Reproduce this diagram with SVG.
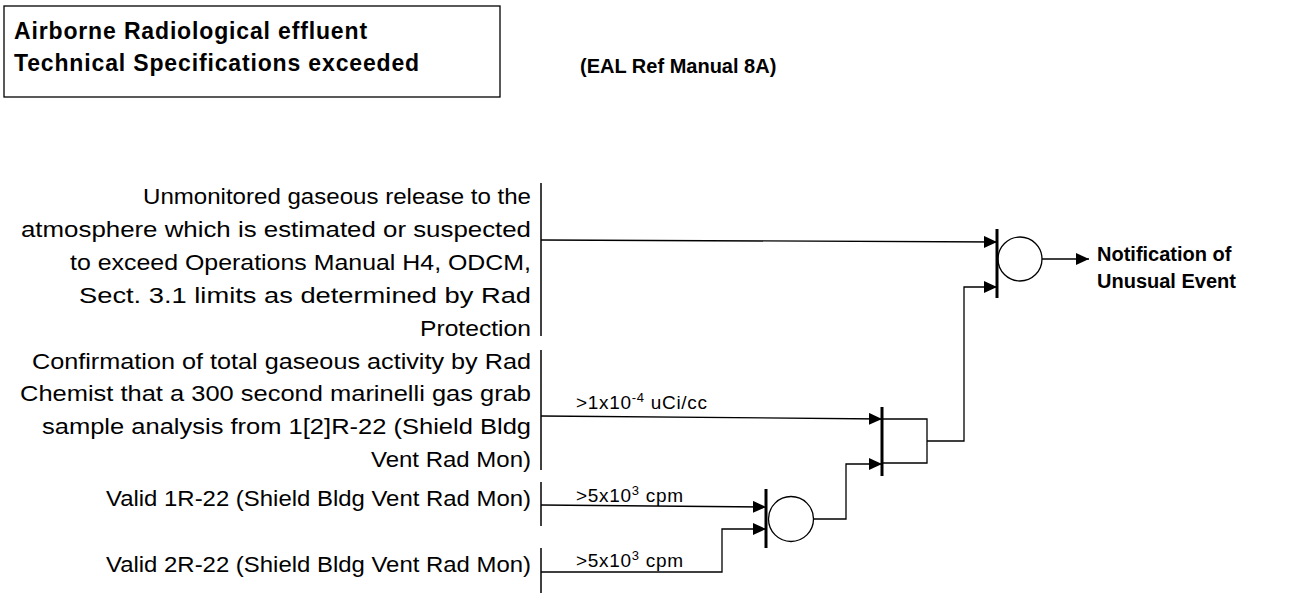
<svg xmlns="http://www.w3.org/2000/svg" width="1291" height="593" viewBox="0 0 1291 593">
<defs>
<marker id="ah" markerWidth="13" markerHeight="12" refX="13" refY="6" orient="auto" markerUnits="userSpaceOnUse">
<path d="M0,0 L13,6 L0,12 Z" fill="#000"/>
</marker>
<style>
.t{font-family:"Liberation Sans",Arial,sans-serif;font-size:22px;fill:#000}
.h{font-family:"Liberation Sans",Arial,sans-serif;font-size:23px;font-weight:bold;letter-spacing:0.85px;fill:#000}
.b{font-family:"Liberation Sans",Arial,sans-serif;font-size:20px;font-weight:bold;fill:#000}
.s{font-family:"Liberation Sans",Arial,sans-serif;font-size:19px;letter-spacing:0.7px;fill:#000}
.ln{fill:none;stroke:#000;stroke-width:1.3}
.bar{stroke:#000;stroke-width:1.5}
.gb{stroke:#000;stroke-width:3}
.c{fill:#fff;stroke:#000;stroke-width:1.3}
</style>
</defs>
<rect width="1291" height="593" fill="#fff"/>
<g id="title">
<rect x="4" y="6" width="496" height="91" fill="none" stroke="#000" stroke-width="1.3"/>
<text class="h" x="14" y="39">Airborne Radiological effluent</text>
<text class="h" x="14" y="71">Technical Specifications exceeded</text>
</g>
<g id="ref"><text class="b" x="580" y="73">(EAL Ref Manual 8A)</text></g>
<g id="input1">
<text class="t" text-anchor="end" x="531" y="204" textLength="388" lengthAdjust="spacingAndGlyphs">Unmonitored gaseous release to the</text>
<text class="t" text-anchor="end" x="531" y="237" textLength="510" lengthAdjust="spacingAndGlyphs">atmosphere which is estimated or suspected</text>
<text class="t" text-anchor="end" x="531" y="270" textLength="461" lengthAdjust="spacingAndGlyphs">to exceed Operations Manual H4, ODCM,</text>
<text class="t" text-anchor="end" x="531" y="303" textLength="452" lengthAdjust="spacingAndGlyphs">Sect. 3.1 limits as determined by Rad</text>
<text class="t" text-anchor="end" x="531" y="336" textLength="111" lengthAdjust="spacingAndGlyphs">Protection</text>
<line class="bar" x1="541" y1="183" x2="541" y2="336"/>
</g>
<g id="input2">
<text class="t" text-anchor="end" x="531" y="369" textLength="499" lengthAdjust="spacingAndGlyphs">Confirmation of total gaseous activity by Rad</text>
<text class="t" text-anchor="end" x="531" y="401" textLength="511" lengthAdjust="spacingAndGlyphs">Chemist that a 300 second marinelli gas grab</text>
<text class="t" text-anchor="end" x="531" y="434" textLength="489" lengthAdjust="spacingAndGlyphs">sample analysis from 1[2]R-22 (Shield Bldg</text>
<text class="t" text-anchor="end" x="531" y="467" textLength="160" lengthAdjust="spacingAndGlyphs">Vent Rad Mon)</text>
<line class="bar" x1="541" y1="350" x2="541" y2="470"/>
</g>
<g id="input3">
<text class="t" text-anchor="end" x="531" y="506" textLength="425" lengthAdjust="spacingAndGlyphs">Valid 1R-22 (Shield Bldg Vent Rad Mon)</text>
<line class="bar" x1="541" y1="482" x2="541" y2="526"/>
</g>
<g id="input4">
<text class="t" text-anchor="end" x="531" y="572" textLength="425" lengthAdjust="spacingAndGlyphs">Valid 2R-22 (Shield Bldg Vent Rad Mon)</text>
<line class="bar" x1="541" y1="548" x2="541" y2="593"/>
</g>
<g id="gate1">
<circle class="c" cx="1020" cy="259" r="22"/>
<line class="gb" x1="997" y1="229" x2="997" y2="298"/>
</g>
<g id="gate2">
<line class="gb" x1="882" y1="407" x2="882" y2="476"/>
</g>
<g id="gate3">
<circle class="c" cx="791" cy="519" r="22.5"/>
<line class="gb" x1="766" y1="489" x2="766" y2="548"/>
</g>
<g id="output">
<text class="b" x="1097" y="261">Notification of</text>
<text class="b" x="1097" y="288">Unusual Event</text>
</g>
<g id="connectors">
<path class="ln" d="M541,240 L997,242" marker-end="url(#ah)"/>
<path class="ln" d="M541,416 L882,419" marker-end="url(#ah)"/>
<path class="ln" d="M541,505 L766,507" marker-end="url(#ah)"/>
<path class="ln" d="M541,572 L722,572 L722,529 L766,529" marker-end="url(#ah)"/>
<path class="ln" d="M813,519 L846,519 L846,464 L882,464" marker-end="url(#ah)"/>
<path class="ln" d="M882,419 L927,419 L927,463 L882,463"/>
<path class="ln" d="M927,441 L964,441 L964,287 L997,287" marker-end="url(#ah)"/>
<path class="ln" d="M1042,259 L1089,259" marker-end="url(#ah)"/>
<text class="s" x="576" y="409">&gt;1x10<tspan dy="-7" font-size="13">-4</tspan><tspan dy="7"> uCi/cc</tspan></text>
<text class="s" x="576" y="502">&gt;5x10<tspan dy="-7" font-size="13">3</tspan><tspan dy="7"> cpm</tspan></text>
<text class="s" x="576" y="567">&gt;5x10<tspan dy="-7" font-size="13">3</tspan><tspan dy="7"> cpm</tspan></text>
</g>
</svg>
